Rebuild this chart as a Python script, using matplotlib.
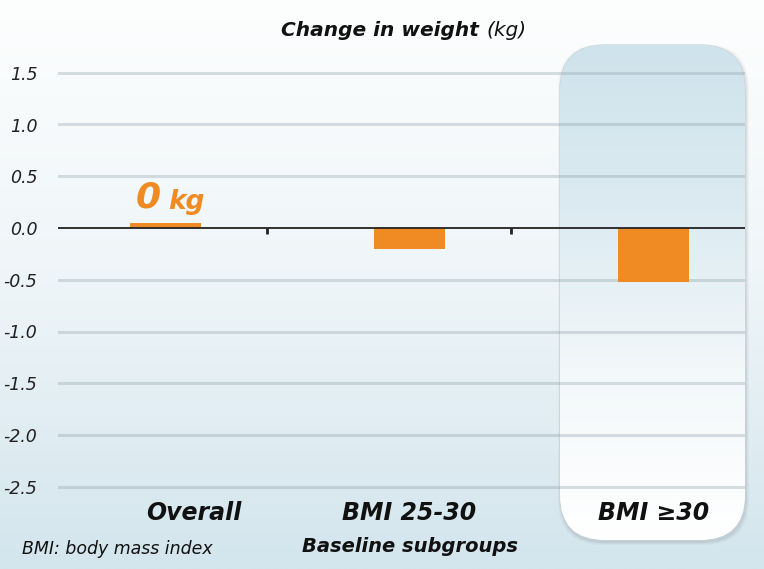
import numpy as np
import matplotlib
matplotlib.use("Agg")
import matplotlib.pyplot as plt
from matplotlib.patches import FancyBboxPatch
from matplotlib.colors import LinearSegmentedColormap
from matplotlib import font_manager
import matplotlib.transforms as mtransforms

# data
categories = ["Overall", "BMI 25-30", "BMI \u226530"]
changes = [0.05, -0.2, -0.52]
y_ticks = [1.5, 1.0, 0.5, 0.0, -0.5, -1.0, -1.5, -2.0, -2.5]
y_labels = ["1.5", "1.0", "0.5", "0.0", "-0.5", "-1.0", "-1.5", "-2.0", "-2.5"]

ORANGE = "#f08a22"
names = {f.name for f in font_manager.fontManager.ttflist}
FONT = ["DejaVu Sans Condensed", "DejaVu Sans"] if "DejaVu Sans Condensed" in names else ["DejaVu Sans"]
plt.rcParams["font.family"] = FONT

W, H = 764, 569
fig = plt.figure(figsize=(W / 100, H / 100), dpi=100)

# background in pixel coordinates
bg = fig.add_axes([0, 0, 1, 1], zorder=0)
bg.set_xlim(0, W)
bg.set_ylim(H, 0)
bg.axis("off")
bg_cmap = LinearSegmentedColormap.from_list("bg", ["#fdfefe", "#eef5f8", "#d3e5ed"])
grad = np.linspace(0, 1, 256).reshape(-1, 1)
bg.imshow(grad, cmap=bg_cmap, extent=[0, W, H, 0], aspect="auto", zorder=0)

# highlight box (rounded) with soft shadow
bx0, by0, bx1, by1, rad = 560, 45, 745, 540, 45
for i, a in enumerate([0.04, 0.05, 0.07]):
    off = 3 - i
    sh = FancyBboxPatch((bx0 - off + 1, by0 - off + 2), bx1 - bx0 + 2 * off, by1 - by0 + 2 * off,
                        boxstyle=f"round,pad=0,rounding_size={rad}", fc="#555555", ec="none",
                        alpha=a, zorder=1)
    bg.add_patch(sh)
box = FancyBboxPatch((bx0, by0), bx1 - bx0, by1 - by0,
                     boxstyle=f"round,pad=0,rounding_size={rad}", fc="white", ec="#c8d0d4",
                     lw=0.8, zorder=2)
bg.add_patch(box)
box_cmap = LinearSegmentedColormap.from_list("box", ["#cfe3ec", "#dcebf1", "#f3f8fa", "#ffffff"])
im = bg.imshow(grad, cmap=box_cmap, extent=[bx0, bx1, by1, by0], aspect="auto", zorder=3)
im.set_clip_path(box)

# main axes
ymin, ymax = -2.6, 1.75
ppu = 103.5
y0px = 228
top_px = y0px - ymax * ppu
bot_px = y0px - ymin * ppu
ax_left, ax_right = 58, 745
ax = fig.add_axes([ax_left / W, 1 - bot_px / H, (ax_right - ax_left) / W, (bot_px - top_px) / H], zorder=5)
ax.patch.set_alpha(0)
ax.set_ylim(ymin, ymax)
ax.set_xlim(-0.44, 2.375)
for s in ax.spines.values():
    s.set_visible(False)

x = np.arange(len(categories))
for t in y_ticks:
    if t == 0:
        ax.axhline(t, color="#222222", lw=1.3, zorder=3)
    else:
        ax.axhline(t, color=(0.55, 0.62, 0.66, 0.33), lw=2.2, zorder=1)

ax.bar(x, changes, width=0.29, color=ORANGE, zorder=2)

# small ticks on the zero line between categories
ax.vlines(x[:-1] + 0.415, -0.06, 0, color="#222222", lw=2, zorder=3)

ax.set_yticks(y_ticks)
ax.set_yticklabels(y_labels, fontsize=12.5, fontstyle="italic", color="#222222")
ax.tick_params(axis="y", length=0, pad=15)

ax.set_xticks(x)
ax.set_xticklabels(categories, fontsize=17, fontweight="bold", fontstyle="italic", color="#111111")
ax.tick_params(axis="x", length=0, pad=3)
# "Overall" sits a little right of its bar in the original
lbl = ax.get_xticklabels()[0]
lbl.set_transform(lbl.get_transform() + mtransforms.ScaledTranslation(28 / 100, 0, fig.dpi_scale_trans))

# "0 kg" annotation above the overall bar
ax.text(x[0] - 0.02, changes[0] + 0.08, "0", fontsize=26, fontweight="bold", fontstyle="italic",
        color=ORANGE, ha="right", va="bottom")
ax.text(x[0] + 0.01, changes[0] + 0.08, "kg", fontsize=19, fontweight="bold", fontstyle="italic",
        color=ORANGE, ha="left", va="bottom")

# title and footnotes
fig.text(486 / W, 1 - 30 / H, "Change in weight ", fontsize=14.5, fontweight="bold", fontstyle="italic",
         color="#111111", ha="right", va="center")
fig.text(486 / W, 1 - 30 / H, "(kg)", fontsize=14.5, fontstyle="italic", color="#111111",
         ha="left", va="center")
fig.text(410 / W, 1 - 546 / H, "Baseline subgroups", fontsize=14, fontweight="bold", fontstyle="italic",
         color="#111111", ha="center", va="center")
fig.text(22 / W, 1 - 549 / H, "BMI: body mass index", fontsize=12.5, fontstyle="italic",
         color="#111111", ha="left", va="center")

fig.savefig("out.png", dpi=100)
